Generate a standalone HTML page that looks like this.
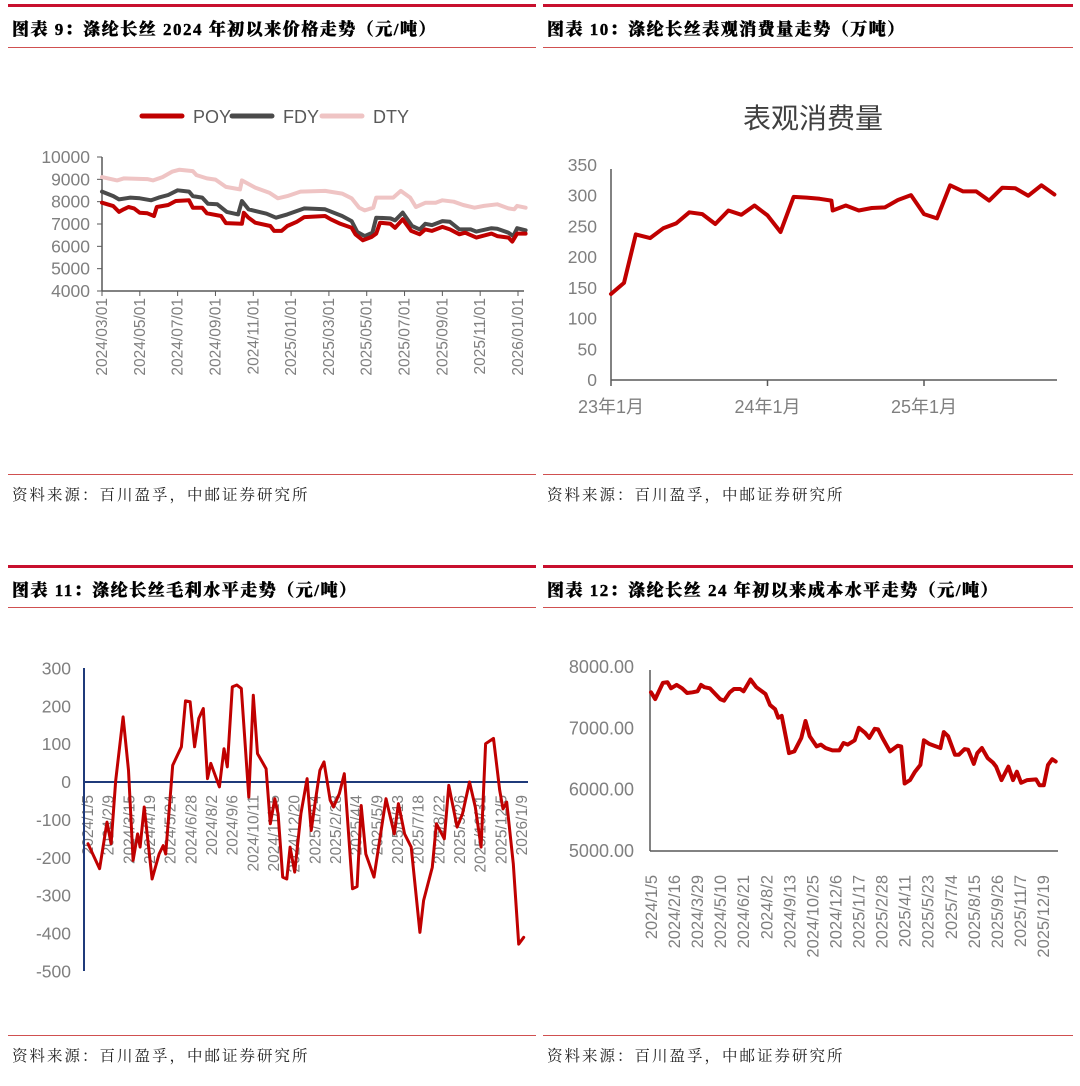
<!DOCTYPE html>
<html><head><meta charset="utf-8">
<style>
html,body{margin:0;padding:0;background:#fff;}
body{width:1080px;height:1086px;position:relative;overflow:hidden;font-family:"Liberation Sans","Noto Sans CJK SC",sans-serif;}
.hd{position:absolute;font-family:"Liberation Serif","Noto Serif CJK SC",serif;font-weight:900;font-size:17px;color:#000;letter-spacing:1.5px;white-space:nowrap;-webkit-text-stroke:0.4px #000;}
.src{position:absolute;font-family:"Liberation Serif","Noto Serif CJK SC",serif;font-size:15.5px;color:#222;letter-spacing:2px;white-space:nowrap;}
.thick{position:absolute;height:3px;background:#c8102e;}
.thin{position:absolute;height:1px;background:#d05050;}
svg{position:absolute;left:0;top:0;}
</style></head>
<body>
<div class="thick" style="left:8px;top:4px;width:528px"></div>
<div class="thick" style="left:543px;top:4px;width:530px"></div>
<div class="hd" style="left:12px;top:15px">图表 9：涤纶长丝 2024 年初以来价格走势（元/吨）</div>
<div class="hd" style="left:547px;top:15px">图表 10：涤纶长丝表观消费量走势（万吨）</div>
<div class="thin" style="left:8px;top:47px;width:528px"></div>
<div class="thin" style="left:543px;top:47px;width:530px"></div>
<div class="thin" style="left:8px;top:474px;width:528px"></div>
<div class="thin" style="left:543px;top:474px;width:530px"></div>
<div class="src" style="left:12px;top:483px">资料来源：百川盈孚，中邮证券研究所</div>
<div class="src" style="left:547px;top:483px">资料来源：百川盈孚，中邮证券研究所</div>

<div class="thick" style="left:8px;top:565px;width:528px"></div>
<div class="thick" style="left:543px;top:565px;width:530px"></div>
<div class="hd" style="left:12px;top:576px">图表 11：涤纶长丝毛利水平走势（元/吨）</div>
<div class="hd" style="left:547px;top:576px">图表 12：涤纶长丝 24 年初以来成本水平走势（元/吨）</div>
<div class="thin" style="left:8px;top:607px;width:528px"></div>
<div class="thin" style="left:543px;top:607px;width:530px"></div>
<div class="thin" style="left:8px;top:1035px;width:528px"></div>
<div class="thin" style="left:543px;top:1035px;width:530px"></div>
<div class="src" style="left:12px;top:1044px">资料来源：百川盈孚，中邮证券研究所</div>
<div class="src" style="left:547px;top:1044px">资料来源：百川盈孚，中邮证券研究所</div>

<svg id="svg" width="1080" height="1086" xmlns="http://www.w3.org/2000/svg"></svg>

<script>
// ---- Chart 1 data (months since 2024/03/01) ----
const c1Ticks = ["2024/03/01","2024/05/01","2024/07/01","2024/09/01","2024/11/01","2025/01/01","2025/03/01","2025/05/01","2025/07/01","2025/09/01","2025/11/01","2026/01/01"];
const c1YTicks = [4000,5000,6000,7000,8000,9000,10000];
const poyM = [0,0.6,0.9,1.15,1.4,1.7,2.0,2.4,2.75,2.9,3.5,3.9,4.6,4.8,5.3,5.55,6.3,6.55,7.4,7.5,7.75,8.1,8.9,9.1,9.5,9.8,10.3,10.7,11.8,12.1,12.6,13.2,13.4,13.8,14.25,14.5,14.7,15.25,15.5,15.9,16.35,16.8,17.1,17.45,18.0,18.4,18.9,19.2,19.8,20.6,20.9,21.5,21.7,21.95,22.4];
const poyV = [7955,7800,7540,7660,7760,7700,7500,7480,7360,7760,7850,8030,8060,7730,7730,7480,7360,7040,7010,7500,7280,7060,6910,6690,6690,6910,7100,7310,7360,7210,7010,6830,6540,6270,6420,6570,7060,7010,6830,7210,6690,6540,6760,6690,6870,6760,6540,6610,6390,6570,6460,6390,6210,6570,6570];
const fdyM = [0,0.6,0.9,1.5,2.0,2.6,3.0,3.5,4.0,4.6,4.8,5.3,5.6,6.1,6.6,7.2,7.4,7.75,8.7,9.2,9.8,10.7,11.8,12.7,13.2,13.5,13.9,14.3,14.5,15.25,15.5,15.9,16.4,16.8,17.1,17.45,18.0,18.4,18.9,19.5,19.8,20.6,20.9,21.5,21.75,21.95,22.4];
const fdyV = [8450,8250,8100,8180,8150,8060,8180,8300,8510,8450,8250,8180,7910,7880,7540,7430,8030,7660,7460,7280,7430,7700,7660,7360,7130,6640,6460,6610,7280,7250,7160,7510,6910,6760,7010,6950,7130,7100,6760,6760,6660,6810,6790,6610,6460,6810,6720];
const dtyM = [0,0.8,1.15,2.4,2.7,3.2,3.7,4.1,4.8,5.0,5.55,6.0,6.55,7.3,7.4,8.1,8.85,9.3,9.8,10.5,11.8,12.7,13.2,13.6,13.9,14.35,14.5,15.4,15.8,16.3,16.6,17.1,17.65,18.0,18.6,19.1,19.7,20.2,20.9,21.5,21.8,21.95,22.4];
const dtyV = [9100,8950,9040,9010,8950,9100,9340,9430,9370,9190,9040,8990,8660,8550,8950,8630,8400,8150,8250,8450,8480,8360,8150,7730,7610,7730,8180,8180,8480,8180,7760,7950,7950,8060,8000,7850,7730,7810,7880,7700,7660,7810,7730];

// ---- Chart 2 data (months since 2023/01) ----
const c2Ticks = ["23年1月","24年1月","25年1月"];
const c2YTicks = [0,50,100,150,200,250,300,350];
const consM = [0,1,1.9,3,4,5,6,7,8,9,10,11,12,13,14,15,16,16.9,17,18,19,20,21,22,23,24,25,26,27,28,29,30,31,32,33,34];
const consV = [140,158,237,231,247,255,273,270,254,276,269,284,268,241,298,297,295,292,276,284,276,280,281,293,301,270,263,317,307,307,292,313,312,300,317,302];

// ---- Chart 3 data (weeks since 2024/1/5) ----
const c3Ticks = ["2024/1/5","2024/2/9","2024/3/15","2024/4/19","2024/5/24","2024/6/28","2024/8/2","2024/9/6","2024/10/11","2024/11/15","2024/12/20","2025/1/24","2025/2/28","2025/4/4","2025/5/9","2025/6/13","2025/7/18","2025/8/22","2025/9/26","2025/10/31","2025/12/5","2026/1/9"];
const c3YTicks = [-500,-400,-300,-200,-100,0,100,200,300];
const profW = [0,2.8,4.6,5.6,6.7,8.5,9.8,10.9,12.0,12.6,13.6,15.5,17.2,18.2,18.8,20.5,22.6,23.6,24.7,25.8,26.8,27.9,28.9,29.7,31.8,32.9,33.7,34.9,36.0,37.1,38.9,40.0,41.0,43.1,44.1,45.2,46.0,47.1,48.1,48.9,50.0,51.5,53.0,54.0,54.8,56.1,57.1,58.6,59.4,60.8,62.0,64.0,65.1,66.1,67.2,69.2,72.1,74.1,75.1,76.6,78.2,80.3,81.2,83.3,84.3,86.2,87.3,89.3,90.6,92.3,93.7,95.1,96.2,98.1,99.6,100.4,101.3,102.9,104.2,105.4];
const profV = [-163,-229,-106,-163,4,172,31,-207,-137,-172,-66,-256,-190,-168,-190,44,93,214,212,93,168,194,9,49,-13,88,40,251,256,247,-40,229,75,35,-110,-44,-84,-251,-256,-172,-238,-84,9,-128,-66,31,53,-48,-66,-31,22,-282,-276,-62,-190,-251,-44,-137,-57,-137,-172,-397,-313,-225,-110,-150,-9,-119,-84,0,-66,-172,101,115,-22,-71,-53,-216,-428,-410];

// ---- Chart 4 data (weeks since 2024/1/5) ----
const c4Ticks = ["2024/1/5","2024/2/16","2024/3/29","2024/5/10","2024/6/21","2024/8/2","2024/9/13","2024/10/25","2024/12/6","2025/1/17","2025/2/28","2025/4/11","2025/5/23","2025/7/4","2025/8/15","2025/9/26","2025/11/7","2025/12/19"];
const c4YTicks = [5000,6000,7000,8000];
const costW = [0,1.1,3.1,4.3,5.2,6.7,8.1,9.4,10.8,12.1,13.0,13.9,15.3,18.0,19.0,20.5,21.6,23.2,24.1,25.9,27.4,29.8,31.0,32.3,33.1,34.0,35.9,37.3,39.1,40.2,41.3,43.1,44.2,45.4,47.2,49.0,50.1,51.2,53.0,54.1,55.7,56.8,58.2,59.1,60.2,62.2,64.2,65.1,66.0,67.4,68.7,70.1,71.0,72.3,73.7,75.3,76.2,77.3,79.1,80.1,81.6,82.5,84.0,84.9,86.1,87.6,89.0,89.8,91.2,93.0,94.2,95.2,96.3,97.9,100.2,101.1,102.2,103.3,104.4,105.3];
const costV = [7587,7477,7741,7752,7653,7708,7653,7576,7587,7604,7708,7670,7653,7477,7450,7587,7642,7642,7604,7796,7670,7560,7378,7312,7174,7202,6596,6624,6844,7119,6871,6706,6734,6679,6640,6640,6761,6734,6805,7009,6927,6844,6993,6982,6844,6624,6717,6706,6101,6156,6293,6404,6805,6750,6717,6679,6938,6871,6569,6569,6662,6651,6420,6596,6679,6514,6442,6376,6156,6376,6156,6293,6112,6156,6167,6073,6073,6404,6497,6459];

const NS = "http://www.w3.org/2000/svg";
const svg = document.getElementById("svg");
function mk(tag, attrs, parent) {
  const e = document.createElementNS(NS, tag);
  for (const k in attrs) e.setAttribute(k, attrs[k]);
  (parent || svg).appendChild(e);
  return e;
}
function txt(s, attrs, parent) { const e = mk("text", attrs, parent); e.textContent = s; return e; }
function polyline(xs, ys, fx, fy, color, w, name) {
  const pts = xs.map((x, i) => fx(x).toFixed(1) + "," + fy(ys[i]).toFixed(1)).join(" ");
  const p = mk("polyline", {points: pts, fill: "none", stroke: color, "stroke-width": w, "stroke-linejoin": "round", "stroke-linecap": "round"});
  
  
  return p;
}
const GRAY = "#7f7f7f", AX = "#595959";

// ===== Chart 1 =====
{
  const g = mk("g", {});
  
  
  const x = m => 102 + m * (416 / 22);
  const y = v => 157 + (10000 - v) / 6000 * 134;
  mk("line", {x1: 102, y1: 157, x2: 102, y2: 291, stroke: AX, "stroke-width": 1.5}, g);
  mk("line", {x1: 102, y1: 291, x2: 524, y2: 291, stroke: AX, "stroke-width": 1.5}, g);
  c1YTicks.forEach(v => {
    mk("line", {x1: 97, y1: y(v), x2: 102, y2: y(v), stroke: AX, "stroke-width": 1}, g);
    const t = txt(String(v), {x: 90, y: y(v) + 6, "text-anchor": "end", "font-size": 17.5, fill: GRAY}, g);
    
    
  });
  c1Ticks.forEach((s, i) => {
    const xx = x(i * 2);
    mk("line", {x1: xx, y1: 291, x2: xx, y2: 296, stroke: AX, "stroke-width": 1}, g);
    const t = txt(s, {x: 0, y: 0, "text-anchor": "end", "font-size": 15.5, fill: GRAY, transform: `translate(${xx + 5},298) rotate(-90)`}, g);
    
    
  });
  polyline(dtyM, dtyV, x, y, "#efc4c4", 4, "dty-line");
  polyline(fdyM, fdyV, x, y, "#4a4a4a", 4, "fdy-line");
  polyline(poyM, poyV, x, y, "#c00000", 4, "poy-line");
  const leg = [["POY", "#c00000", 142], ["FDY", "#4a4a4a", 232], ["DTY", "#efc4c4", 322]];
  leg.forEach(([n, c, lx]) => {
    const l = mk("line", {x1: lx, y1: 116, x2: lx + 40, y2: 116, stroke: c, "stroke-width": 5, "stroke-linecap": "round"}, g);
    
    
    const t = txt(n, {x: lx + 51, y: 123, "font-size": 18, fill: "#595959"}, g);
    
    
  });
}

// ===== Chart 2 =====
{
  const g = mk("g", {});
  
  
  const x = m => 611 + m * (313 / 24);
  const y = v => 380 - v * (215 / 350);
  const tt = txt("表观消费量", {x: 813, y: 128, "text-anchor": "middle", "font-size": 28, fill: "#404040", "font-family": "Noto Sans CJK SC, sans-serif"}, g);
  
  
  mk("line", {x1: 611, y1: 169, x2: 611, y2: 380, stroke: AX, "stroke-width": 1.5}, g);
  mk("line", {x1: 611, y1: 380, x2: 1057, y2: 380, stroke: AX, "stroke-width": 1.5}, g);
  c2YTicks.forEach(v => {
    const t = txt(String(v), {x: 597, y: y(v) + 6, "text-anchor": "end", "font-size": 17.5, fill: GRAY}, g);
    
    
  });
  c2Ticks.forEach((s, i) => {
    const xx = x(i * 12);
    mk("line", {x1: xx, y1: 380, x2: xx, y2: 386, stroke: AX, "stroke-width": 1.5}, g);
    const t = txt(s, {x: xx, y: 413, "text-anchor": "middle", "font-size": 18, fill: GRAY}, g);
    
    
  });
  polyline(consM, consV, x, y, "#c00000", 4, "consumption-line");
}

// ===== Chart 3 =====
{
  const g = mk("g", {});
  
  
  const x = w => 88 + w * (434 / 105);
  const y = v => 782 - v * (303 / 800);
  c3YTicks.forEach(v => {
    const t = txt(String(v), {x: 71, y: y(v) + 6, "text-anchor": "end", "font-size": 17.5, fill: GRAY}, g);
    
    
  });
  c3Ticks.forEach((s, i) => {
    const xx = x(i * 5);
    const t = txt(s, {x: 0, y: 0, "text-anchor": "end", "font-size": 15.5, fill: GRAY, transform: `translate(${xx + 5},795) rotate(-90)`}, g);
    
    
  });
  mk("line", {x1: 84, y1: 668, x2: 84, y2: 971, stroke: "#1f3a7a", "stroke-width": 2}, g);
  mk("line", {x1: 84, y1: 782, x2: 528, y2: 782, stroke: "#1f3a7a", "stroke-width": 2}, g);
  polyline(profW, profV, x, y, "#c00000", 3, "profit-line");
}

// ===== Chart 4 =====
{
  const g = mk("g", {});
  
  
  const x = w => 651 + w * (392 / 102);
  const y = v => 851 - (v - 5000) * (184 / 3000);
  mk("line", {x1: 650, y1: 670, x2: 650, y2: 851, stroke: AX, "stroke-width": 1.5}, g);
  mk("line", {x1: 650, y1: 851, x2: 1058, y2: 851, stroke: AX, "stroke-width": 1.5}, g);
  c4YTicks.forEach(v => {
    const t = txt(v.toFixed(2), {x: 634, y: y(v) + 6, "text-anchor": "end", "font-size": 18, fill: GRAY}, g);
    
    
  });
  c4Ticks.forEach((s, i) => {
    const xx = x(i * 6);
    const t = txt(s, {x: 0, y: 0, "text-anchor": "end", "font-size": 16.5, fill: GRAY, transform: `translate(${xx + 6},875) rotate(-90)`}, g);
    
    
  });
  polyline(costW, costV, x, y, "#c00000", 4, "cost-line");
}
</script>
</body></html>
